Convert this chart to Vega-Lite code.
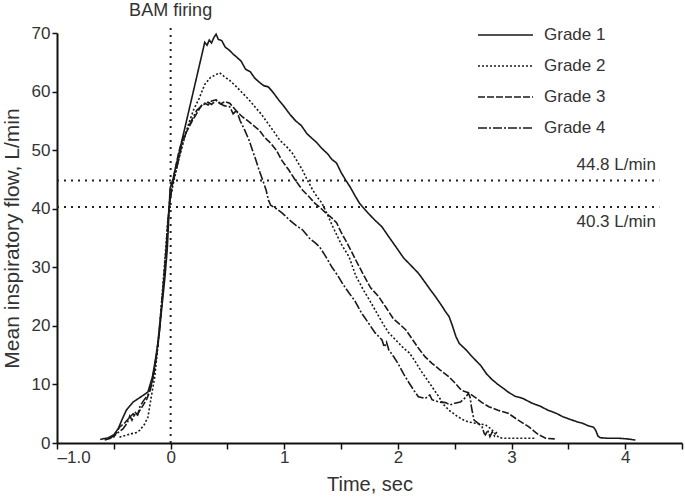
{
  "$schema": "https://vega.github.io/schema/vega-lite/v6.json",
  "width": 625,
  "height": 410,
  "autosize": {"type": "none"},
  "padding": {"left": 57, "top": 33, "right": 3, "bottom": 54},
  "config": {
    "font": "Liberation Sans",
    "view": {"stroke": null},
    "axis": {"grid": false, "domainColor": "#111", "tickColor": "#111", "labelColor": "#333", "titleColor": "#333", "titleFontWeight": "normal"}
  },
  "datasets": {
    "curves": [
      {"grade": "Grade 1", "t": -0.62, "v": 0.6}, {"grade": "Grade 1", "t": -0.55, "v": 0.9}, {"grade": "Grade 1", "t": -0.5, "v": 1.4}, {"grade": "Grade 1", "t": -0.46, "v": 2.5}, {"grade": "Grade 1", "t": -0.43, "v": 3.9}, {"grade": "Grade 1", "t": -0.39, "v": 5.6}, {"grade": "Grade 1", "t": -0.33, "v": 7.0}, {"grade": "Grade 1", "t": -0.26, "v": 7.9}, {"grade": "Grade 1", "t": -0.2, "v": 8.7}, {"grade": "Grade 1", "t": -0.16, "v": 11.3}, {"grade": "Grade 1", "t": -0.13, "v": 14.7}, {"grade": "Grade 1", "t": -0.1, "v": 18.8}, {"grade": "Grade 1", "t": -0.08, "v": 22.7}, {"grade": "Grade 1", "t": -0.05, "v": 28.3}, {"grade": "Grade 1", "t": -0.03, "v": 33}, {"grade": "Grade 1", "t": -0.015, "v": 39}, {"grade": "Grade 1", "t": -0.005, "v": 43.5}, {"grade": "Grade 1", "t": 0.02, "v": 45}, {"grade": "Grade 1", "t": 0.3, "v": 68.4}, {"grade": "Grade 1", "t": 0.32, "v": 67.9}, {"grade": "Grade 1", "t": 0.34, "v": 68.8}, {"grade": "Grade 1", "t": 0.36, "v": 68.3}, {"grade": "Grade 1", "t": 0.38, "v": 69.2}, {"grade": "Grade 1", "t": 0.4, "v": 69.8}, {"grade": "Grade 1", "t": 0.42, "v": 68.9}, {"grade": "Grade 1", "t": 0.45, "v": 68.7}, {"grade": "Grade 1", "t": 0.48, "v": 67.6}, {"grade": "Grade 1", "t": 0.52, "v": 67.0}, {"grade": "Grade 1", "t": 0.55, "v": 66.4}, {"grade": "Grade 1", "t": 0.58, "v": 65.9}, {"grade": "Grade 1", "t": 0.62, "v": 65.2}, {"grade": "Grade 1", "t": 0.66, "v": 63.8}, {"grade": "Grade 1", "t": 0.7, "v": 63.4}, {"grade": "Grade 1", "t": 0.74, "v": 62.3}, {"grade": "Grade 1", "t": 0.78, "v": 61.6}, {"grade": "Grade 1", "t": 0.82, "v": 61.0}, {"grade": "Grade 1", "t": 0.86, "v": 60.8}, {"grade": "Grade 1", "t": 0.9, "v": 59.9}, {"grade": "Grade 1", "t": 0.95, "v": 58.6}, {"grade": "Grade 1", "t": 1.0, "v": 57.4}, {"grade": "Grade 1", "t": 1.05, "v": 56.1}, {"grade": "Grade 1", "t": 1.1, "v": 55.0}, {"grade": "Grade 1", "t": 1.15, "v": 54.2}, {"grade": "Grade 1", "t": 1.2, "v": 52.8}, {"grade": "Grade 1", "t": 1.25, "v": 51.9}, {"grade": "Grade 1", "t": 1.28, "v": 51.4}, {"grade": "Grade 1", "t": 1.33, "v": 50.3}, {"grade": "Grade 1", "t": 1.38, "v": 49.4}, {"grade": "Grade 1", "t": 1.42, "v": 48.4}, {"grade": "Grade 1", "t": 1.46, "v": 47.8}, {"grade": "Grade 1", "t": 1.5, "v": 46.2}, {"grade": "Grade 1", "t": 1.54, "v": 44.9}, {"grade": "Grade 1", "t": 1.58, "v": 43.7}, {"grade": "Grade 1", "t": 1.62, "v": 42.3}, {"grade": "Grade 1", "t": 1.66, "v": 41.0}, {"grade": "Grade 1", "t": 1.69, "v": 40.3}, {"grade": "Grade 1", "t": 1.74, "v": 39.2}, {"grade": "Grade 1", "t": 1.8, "v": 38.0}, {"grade": "Grade 1", "t": 1.86, "v": 36.9}, {"grade": "Grade 1", "t": 1.92, "v": 35.2}, {"grade": "Grade 1", "t": 1.96, "v": 34.1}, {"grade": "Grade 1", "t": 2.0, "v": 33.0}, {"grade": "Grade 1", "t": 2.05, "v": 31.6}, {"grade": "Grade 1", "t": 2.1, "v": 30.6}, {"grade": "Grade 1", "t": 2.18, "v": 29.0}, {"grade": "Grade 1", "t": 2.24, "v": 27.4}, {"grade": "Grade 1", "t": 2.28, "v": 26.3}, {"grade": "Grade 1", "t": 2.33, "v": 25.0}, {"grade": "Grade 1", "t": 2.38, "v": 23.6}, {"grade": "Grade 1", "t": 2.42, "v": 22.4}, {"grade": "Grade 1", "t": 2.45, "v": 21.6}, {"grade": "Grade 1", "t": 2.48, "v": 20.0}, {"grade": "Grade 1", "t": 2.51, "v": 18.2}, {"grade": "Grade 1", "t": 2.54, "v": 17.0}, {"grade": "Grade 1", "t": 2.6, "v": 15.9}, {"grade": "Grade 1", "t": 2.64, "v": 15.0}, {"grade": "Grade 1", "t": 2.68, "v": 14.2}, {"grade": "Grade 1", "t": 2.73, "v": 13.2}, {"grade": "Grade 1", "t": 2.78, "v": 11.8}, {"grade": "Grade 1", "t": 2.83, "v": 10.8}, {"grade": "Grade 1", "t": 2.88, "v": 10.0}, {"grade": "Grade 1", "t": 2.93, "v": 9.3}, {"grade": "Grade 1", "t": 2.97, "v": 8.7}, {"grade": "Grade 1", "t": 3.03, "v": 8.0}, {"grade": "Grade 1", "t": 3.1, "v": 7.6}, {"grade": "Grade 1", "t": 3.18, "v": 6.8}, {"grade": "Grade 1", "t": 3.25, "v": 6.3}, {"grade": "Grade 1", "t": 3.32, "v": 5.6}, {"grade": "Grade 1", "t": 3.39, "v": 5.1}, {"grade": "Grade 1", "t": 3.45, "v": 4.5}, {"grade": "Grade 1", "t": 3.52, "v": 4.0}, {"grade": "Grade 1", "t": 3.58, "v": 3.6}, {"grade": "Grade 1", "t": 3.62, "v": 3.4}, {"grade": "Grade 1", "t": 3.68, "v": 2.9}, {"grade": "Grade 1", "t": 3.72, "v": 2.7}, {"grade": "Grade 1", "t": 3.74, "v": 2.2}, {"grade": "Grade 1", "t": 3.76, "v": 1.2}, {"grade": "Grade 1", "t": 3.78, "v": 0.9}, {"grade": "Grade 1", "t": 3.85, "v": 0.8}, {"grade": "Grade 1", "t": 3.95, "v": 0.8}, {"grade": "Grade 1", "t": 4.02, "v": 0.7}, {"grade": "Grade 1", "t": 4.09, "v": 0.5},

      {"grade": "Grade 2", "t": -0.45, "v": 1.0}, {"grade": "Grade 2", "t": -0.38, "v": 1.4}, {"grade": "Grade 2", "t": -0.3, "v": 1.8}, {"grade": "Grade 2", "t": -0.27, "v": 2.2}, {"grade": "Grade 2", "t": -0.23, "v": 3.2}, {"grade": "Grade 2", "t": -0.2, "v": 4.4}, {"grade": "Grade 2", "t": -0.17, "v": 7.9}, {"grade": "Grade 2", "t": -0.14, "v": 11.3}, {"grade": "Grade 2", "t": -0.12, "v": 15}, {"grade": "Grade 2", "t": -0.1, "v": 19}, {"grade": "Grade 2", "t": -0.08, "v": 24}, {"grade": "Grade 2", "t": -0.06, "v": 29}, {"grade": "Grade 2", "t": -0.04, "v": 34}, {"grade": "Grade 2", "t": -0.025, "v": 38}, {"grade": "Grade 2", "t": -0.01, "v": 41}, {"grade": "Grade 2", "t": 0.02, "v": 44}, {"grade": "Grade 2", "t": 0.06, "v": 47.5}, {"grade": "Grade 2", "t": 0.1, "v": 50.5}, {"grade": "Grade 2", "t": 0.15, "v": 54}, {"grade": "Grade 2", "t": 0.2, "v": 56.8}, {"grade": "Grade 2", "t": 0.25, "v": 58.8}, {"grade": "Grade 2", "t": 0.3, "v": 61.2}, {"grade": "Grade 2", "t": 0.35, "v": 62.4}, {"grade": "Grade 2", "t": 0.4, "v": 62.9}, {"grade": "Grade 2", "t": 0.43, "v": 63.2}, {"grade": "Grade 2", "t": 0.47, "v": 62.6}, {"grade": "Grade 2", "t": 0.52, "v": 61.9}, {"grade": "Grade 2", "t": 0.58, "v": 60.8}, {"grade": "Grade 2", "t": 0.63, "v": 59.8}, {"grade": "Grade 2", "t": 0.69, "v": 58.6}, {"grade": "Grade 2", "t": 0.75, "v": 57.2}, {"grade": "Grade 2", "t": 0.8, "v": 56.1}, {"grade": "Grade 2", "t": 0.84, "v": 55.0}, {"grade": "Grade 2", "t": 0.9, "v": 53.4}, {"grade": "Grade 2", "t": 0.96, "v": 51.7}, {"grade": "Grade 2", "t": 1.02, "v": 50.6}, {"grade": "Grade 2", "t": 1.07, "v": 49.5}, {"grade": "Grade 2", "t": 1.12, "v": 47.9}, {"grade": "Grade 2", "t": 1.16, "v": 46.6}, {"grade": "Grade 2", "t": 1.2, "v": 45.0}, {"grade": "Grade 2", "t": 1.25, "v": 43.2}, {"grade": "Grade 2", "t": 1.29, "v": 42.0}, {"grade": "Grade 2", "t": 1.33, "v": 41.0}, {"grade": "Grade 2", "t": 1.38, "v": 39.0}, {"grade": "Grade 2", "t": 1.43, "v": 36.8}, {"grade": "Grade 2", "t": 1.5, "v": 34.0}, {"grade": "Grade 2", "t": 1.57, "v": 31.8}, {"grade": "Grade 2", "t": 1.63, "v": 28.5}, {"grade": "Grade 2", "t": 1.7, "v": 26.0}, {"grade": "Grade 2", "t": 1.75, "v": 24.4}, {"grade": "Grade 2", "t": 1.82, "v": 22.0}, {"grade": "Grade 2", "t": 1.88, "v": 20.0}, {"grade": "Grade 2", "t": 1.92, "v": 18.8}, {"grade": "Grade 2", "t": 2.0, "v": 17.2}, {"grade": "Grade 2", "t": 2.05, "v": 16.2}, {"grade": "Grade 2", "t": 2.1, "v": 15.4}, {"grade": "Grade 2", "t": 2.15, "v": 14.0}, {"grade": "Grade 2", "t": 2.2, "v": 12.4}, {"grade": "Grade 2", "t": 2.24, "v": 11.3}, {"grade": "Grade 2", "t": 2.3, "v": 9.6}, {"grade": "Grade 2", "t": 2.36, "v": 7.9}, {"grade": "Grade 2", "t": 2.4, "v": 6.6}, {"grade": "Grade 2", "t": 2.45, "v": 5.6}, {"grade": "Grade 2", "t": 2.52, "v": 4.6}, {"grade": "Grade 2", "t": 2.57, "v": 4.0}, {"grade": "Grade 2", "t": 2.62, "v": 3.6}, {"grade": "Grade 2", "t": 2.7, "v": 3.3}, {"grade": "Grade 2", "t": 2.77, "v": 3.1}, {"grade": "Grade 2", "t": 2.82, "v": 2.4}, {"grade": "Grade 2", "t": 2.86, "v": 1.5}, {"grade": "Grade 2", "t": 2.89, "v": 0.9}, {"grade": "Grade 2", "t": 2.95, "v": 0.8}, {"grade": "Grade 2", "t": 3.1, "v": 0.8}, {"grade": "Grade 2", "t": 3.21, "v": 0.8},

      {"grade": "Grade 3", "t": -0.58, "v": 0.5}, {"grade": "Grade 3", "t": -0.5, "v": 1.0}, {"grade": "Grade 3", "t": -0.45, "v": 2.7}, {"grade": "Grade 3", "t": -0.4, "v": 3.5}, {"grade": "Grade 3", "t": -0.36, "v": 4.4}, {"grade": "Grade 3", "t": -0.33, "v": 5.0}, {"grade": "Grade 3", "t": -0.3, "v": 4.6}, {"grade": "Grade 3", "t": -0.27, "v": 5.6}, {"grade": "Grade 3", "t": -0.24, "v": 6.5}, {"grade": "Grade 3", "t": -0.21, "v": 7.5}, {"grade": "Grade 3", "t": -0.18, "v": 9.0}, {"grade": "Grade 3", "t": -0.15, "v": 11.5}, {"grade": "Grade 3", "t": -0.12, "v": 15.5}, {"grade": "Grade 3", "t": -0.1, "v": 19.5}, {"grade": "Grade 3", "t": -0.08, "v": 23.5}, {"grade": "Grade 3", "t": -0.06, "v": 28}, {"grade": "Grade 3", "t": -0.04, "v": 33}, {"grade": "Grade 3", "t": -0.025, "v": 37.5}, {"grade": "Grade 3", "t": -0.01, "v": 41}, {"grade": "Grade 3", "t": 0.01, "v": 43.5}, {"grade": "Grade 3", "t": 0.035, "v": 46.3}, {"grade": "Grade 3", "t": 0.07, "v": 49.5}, {"grade": "Grade 3", "t": 0.1, "v": 51.7}, {"grade": "Grade 3", "t": 0.15, "v": 53.5}, {"grade": "Grade 3", "t": 0.19, "v": 55.0}, {"grade": "Grade 3", "t": 0.24, "v": 56.6}, {"grade": "Grade 3", "t": 0.27, "v": 57.6}, {"grade": "Grade 3", "t": 0.3, "v": 58.0}, {"grade": "Grade 3", "t": 0.33, "v": 57.7}, {"grade": "Grade 3", "t": 0.36, "v": 58.4}, {"grade": "Grade 3", "t": 0.4, "v": 58.6}, {"grade": "Grade 3", "t": 0.44, "v": 57.9}, {"grade": "Grade 3", "t": 0.48, "v": 58.3}, {"grade": "Grade 3", "t": 0.52, "v": 58.0}, {"grade": "Grade 3", "t": 0.57, "v": 56.9}, {"grade": "Grade 3", "t": 0.63, "v": 55.7}, {"grade": "Grade 3", "t": 0.68, "v": 55.0}, {"grade": "Grade 3", "t": 0.73, "v": 54.2}, {"grade": "Grade 3", "t": 0.78, "v": 53.4}, {"grade": "Grade 3", "t": 0.83, "v": 52.1}, {"grade": "Grade 3", "t": 0.88, "v": 51.2}, {"grade": "Grade 3", "t": 0.93, "v": 50.0}, {"grade": "Grade 3", "t": 0.98, "v": 48.2}, {"grade": "Grade 3", "t": 1.04, "v": 46.6}, {"grade": "Grade 3", "t": 1.1, "v": 44.8}, {"grade": "Grade 3", "t": 1.16, "v": 43.2}, {"grade": "Grade 3", "t": 1.22, "v": 42.0}, {"grade": "Grade 3", "t": 1.27, "v": 40.9}, {"grade": "Grade 3", "t": 1.31, "v": 40.3}, {"grade": "Grade 3", "t": 1.37, "v": 39.2}, {"grade": "Grade 3", "t": 1.42, "v": 38.4}, {"grade": "Grade 3", "t": 1.46, "v": 37.6}, {"grade": "Grade 3", "t": 1.5, "v": 36.0}, {"grade": "Grade 3", "t": 1.54, "v": 34.6}, {"grade": "Grade 3", "t": 1.57, "v": 33.5}, {"grade": "Grade 3", "t": 1.63, "v": 31.2}, {"grade": "Grade 3", "t": 1.7, "v": 28.6}, {"grade": "Grade 3", "t": 1.76, "v": 26.5}, {"grade": "Grade 3", "t": 1.83, "v": 25.0}, {"grade": "Grade 3", "t": 1.9, "v": 23.0}, {"grade": "Grade 3", "t": 1.96, "v": 21.2}, {"grade": "Grade 3", "t": 2.02, "v": 20.2}, {"grade": "Grade 3", "t": 2.07, "v": 19.3}, {"grade": "Grade 3", "t": 2.12, "v": 17.9}, {"grade": "Grade 3", "t": 2.18, "v": 16.2}, {"grade": "Grade 3", "t": 2.24, "v": 14.7}, {"grade": "Grade 3", "t": 2.3, "v": 13.6}, {"grade": "Grade 3", "t": 2.37, "v": 12.5}, {"grade": "Grade 3", "t": 2.45, "v": 11.3}, {"grade": "Grade 3", "t": 2.5, "v": 10.3}, {"grade": "Grade 3", "t": 2.56, "v": 9.0}, {"grade": "Grade 3", "t": 2.62, "v": 8.6}, {"grade": "Grade 3", "t": 2.68, "v": 7.8}, {"grade": "Grade 3", "t": 2.74, "v": 6.9}, {"grade": "Grade 3", "t": 2.8, "v": 6.2}, {"grade": "Grade 3", "t": 2.88, "v": 5.6}, {"grade": "Grade 3", "t": 2.97, "v": 5.1}, {"grade": "Grade 3", "t": 3.05, "v": 4.0}, {"grade": "Grade 3", "t": 3.1, "v": 3.4}, {"grade": "Grade 3", "t": 3.15, "v": 2.8}, {"grade": "Grade 3", "t": 3.2, "v": 2.0}, {"grade": "Grade 3", "t": 3.24, "v": 1.4}, {"grade": "Grade 3", "t": 3.3, "v": 0.8}, {"grade": "Grade 3", "t": 3.38, "v": 0.7},

      {"grade": "Grade 4", "t": -0.55, "v": 0.7}, {"grade": "Grade 4", "t": -0.5, "v": 1.2}, {"grade": "Grade 4", "t": -0.46, "v": 1.8}, {"grade": "Grade 4", "t": -0.42, "v": 2.4}, {"grade": "Grade 4", "t": -0.38, "v": 3.5}, {"grade": "Grade 4", "t": -0.36, "v": 4.6}, {"grade": "Grade 4", "t": -0.34, "v": 3.9}, {"grade": "Grade 4", "t": -0.31, "v": 5.2}, {"grade": "Grade 4", "t": -0.29, "v": 4.8}, {"grade": "Grade 4", "t": -0.27, "v": 6.2}, {"grade": "Grade 4", "t": -0.24, "v": 7.2}, {"grade": "Grade 4", "t": -0.2, "v": 8.2}, {"grade": "Grade 4", "t": -0.17, "v": 10}, {"grade": "Grade 4", "t": -0.14, "v": 13}, {"grade": "Grade 4", "t": -0.11, "v": 17}, {"grade": "Grade 4", "t": -0.09, "v": 21}, {"grade": "Grade 4", "t": -0.07, "v": 25.5}, {"grade": "Grade 4", "t": -0.05, "v": 30}, {"grade": "Grade 4", "t": -0.035, "v": 34.5}, {"grade": "Grade 4", "t": -0.02, "v": 38.5}, {"grade": "Grade 4", "t": -0.005, "v": 41.5}, {"grade": "Grade 4", "t": 0.02, "v": 44.5}, {"grade": "Grade 4", "t": 0.06, "v": 47.5}, {"grade": "Grade 4", "t": 0.1, "v": 51.0}, {"grade": "Grade 4", "t": 0.14, "v": 53.2}, {"grade": "Grade 4", "t": 0.19, "v": 55.3}, {"grade": "Grade 4", "t": 0.23, "v": 56.8}, {"grade": "Grade 4", "t": 0.27, "v": 57.5}, {"grade": "Grade 4", "t": 0.3, "v": 57.9}, {"grade": "Grade 4", "t": 0.33, "v": 58.2}, {"grade": "Grade 4", "t": 0.36, "v": 57.8}, {"grade": "Grade 4", "t": 0.4, "v": 58.5}, {"grade": "Grade 4", "t": 0.43, "v": 58.0}, {"grade": "Grade 4", "t": 0.47, "v": 57.6}, {"grade": "Grade 4", "t": 0.52, "v": 57.4}, {"grade": "Grade 4", "t": 0.55, "v": 56.2}, {"grade": "Grade 4", "t": 0.58, "v": 56.8}, {"grade": "Grade 4", "t": 0.61, "v": 55.1}, {"grade": "Grade 4", "t": 0.65, "v": 53.5}, {"grade": "Grade 4", "t": 0.69, "v": 51.7}, {"grade": "Grade 4", "t": 0.72, "v": 50.0}, {"grade": "Grade 4", "t": 0.75, "v": 48.3}, {"grade": "Grade 4", "t": 0.78, "v": 46.5}, {"grade": "Grade 4", "t": 0.81, "v": 44.9}, {"grade": "Grade 4", "t": 0.84, "v": 43.2}, {"grade": "Grade 4", "t": 0.86, "v": 41.5}, {"grade": "Grade 4", "t": 0.88, "v": 40.6}, {"grade": "Grade 4", "t": 0.93, "v": 40.0}, {"grade": "Grade 4", "t": 0.98, "v": 39.3}, {"grade": "Grade 4", "t": 1.05, "v": 38.0}, {"grade": "Grade 4", "t": 1.1, "v": 37.2}, {"grade": "Grade 4", "t": 1.16, "v": 36.4}, {"grade": "Grade 4", "t": 1.22, "v": 35.0}, {"grade": "Grade 4", "t": 1.27, "v": 34.2}, {"grade": "Grade 4", "t": 1.31, "v": 33.5}, {"grade": "Grade 4", "t": 1.36, "v": 32.0}, {"grade": "Grade 4", "t": 1.42, "v": 30.0}, {"grade": "Grade 4", "t": 1.47, "v": 28.6}, {"grade": "Grade 4", "t": 1.52, "v": 27.0}, {"grade": "Grade 4", "t": 1.57, "v": 25.6}, {"grade": "Grade 4", "t": 1.62, "v": 24.3}, {"grade": "Grade 4", "t": 1.68, "v": 22.2}, {"grade": "Grade 4", "t": 1.74, "v": 20.5}, {"grade": "Grade 4", "t": 1.8, "v": 18.8}, {"grade": "Grade 4", "t": 1.86, "v": 17.6}, {"grade": "Grade 4", "t": 1.88, "v": 16.4}, {"grade": "Grade 4", "t": 1.9, "v": 17.2}, {"grade": "Grade 4", "t": 1.92, "v": 15.9}, {"grade": "Grade 4", "t": 1.96, "v": 14.8}, {"grade": "Grade 4", "t": 2.0, "v": 13.6}, {"grade": "Grade 4", "t": 2.05, "v": 11.8}, {"grade": "Grade 4", "t": 2.1, "v": 10.2}, {"grade": "Grade 4", "t": 2.14, "v": 9.0}, {"grade": "Grade 4", "t": 2.18, "v": 7.9}, {"grade": "Grade 4", "t": 2.24, "v": 7.6}, {"grade": "Grade 4", "t": 2.28, "v": 8.2}, {"grade": "Grade 4", "t": 2.3, "v": 7.4}, {"grade": "Grade 4", "t": 2.36, "v": 7.0}, {"grade": "Grade 4", "t": 2.42, "v": 6.9}, {"grade": "Grade 4", "t": 2.46, "v": 6.5}, {"grade": "Grade 4", "t": 2.5, "v": 6.8}, {"grade": "Grade 4", "t": 2.55, "v": 7.0}, {"grade": "Grade 4", "t": 2.58, "v": 7.5}, {"grade": "Grade 4", "t": 2.6, "v": 7.9}, {"grade": "Grade 4", "t": 2.62, "v": 8.5}, {"grade": "Grade 4", "t": 2.635, "v": 7.8}, {"grade": "Grade 4", "t": 2.65, "v": 5.8}, {"grade": "Grade 4", "t": 2.67, "v": 3.9}, {"grade": "Grade 4", "t": 2.71, "v": 3.3}, {"grade": "Grade 4", "t": 2.74, "v": 2.8}, {"grade": "Grade 4", "t": 2.76, "v": 1.6}, {"grade": "Grade 4", "t": 2.77, "v": 1.4}, {"grade": "Grade 4", "t": 2.79, "v": 2.2}, {"grade": "Grade 4", "t": 2.81, "v": 1.1}, {"grade": "Grade 4", "t": 2.83, "v": 1.9}, {"grade": "Grade 4", "t": 2.85, "v": 1.2}, {"grade": "Grade 4", "t": 2.87, "v": 1.9}
    ],
    "hrules": [{"t": -1, "t2": 4.3, "v": 44.8}, {"t": -1, "t2": 4.3, "v": 40.3}],
    "vrule": [{"t": 0, "v": 0, "v2": 71}],
    "reflabels": [{"t": 4.27, "v": 47.4, "label": "44.8 L/min"}, {"t": 4.27, "v": 37.8, "label": "40.3 L/min"}],
    "toplabel": [{"t": 0, "v": 73.8, "label": "BAM firing"}]
  },
  "encoding": {
    "x": {
      "field": "t", "type": "quantitative",
      "scale": {"domain": [-1, 4.5], "nice": false, "zero": false},
      "axis": {
        "values": [-1, -0.5, 0, 0.5, 1, 1.5, 2, 2.5, 3, 3.5, 4, 4.5],
        "labelExpr": "datum.value == -1 ? '\u20131.0' : (datum.value % 1 == 0 ? datum.value : '')",
        "labelFontSize": 17, "labelPadding": 0, "tickSize": 6, "tickWidth": 1.5, "domainWidth": 2,
        "title": "Time, sec", "titleFontSize": 20, "titlePadding": 9
      }
    },
    "y": {
      "field": "v", "type": "quantitative",
      "scale": {"domain": [0, 70], "nice": false},
      "axis": {
        "values": [0, 10, 20, 30, 40, 50, 60, 70],
        "labelFontSize": 17, "labelPadding": 2, "tickSize": 5, "tickWidth": 1.5, "domainWidth": 2,
        "title": "Mean inspiratory flow, L/min", "titleFontSize": 21, "titlePadding": 9
      }
    }
  },
  "layer": [
    {
      "data": {"name": "hrules"},
      "mark": {"type": "rule", "strokeDash": [2, 5], "strokeWidth": 2, "color": "#222"},
      "encoding": {"x2": {"field": "t2"}}
    },
    {
      "data": {"name": "vrule"},
      "mark": {"type": "rule", "strokeDash": [2, 5], "strokeWidth": 2, "color": "#222"},
      "encoding": {"y2": {"field": "v2"}}
    },
    {
      "data": {"name": "reflabels"},
      "mark": {"type": "text", "align": "right", "baseline": "middle", "fontSize": 17, "color": "#333"},
      "encoding": {"text": {"field": "label"}}
    },
    {
      "data": {"name": "toplabel"},
      "mark": {"type": "text", "align": "center", "baseline": "middle", "fontSize": 18, "color": "#333", "clip": false},
      "encoding": {"text": {"field": "label"}}
    },
    {
      "data": {"name": "curves"},
      "mark": {"type": "line", "strokeWidth": 1.6, "color": "#1a1a1a"},
      "encoding": {
        "strokeDash": {
          "field": "grade", "type": "nominal",
          "scale": {"domain": ["Grade 1", "Grade 2", "Grade 3", "Grade 4"], "range": [[1, 0], [2, 2], [7, 2], [9, 2, 2, 2]]},
          "legend": {
            "title": null, "orient": "none", "legendX": 420, "legendY": -8,
            "symbolType": "stroke", "symbolSize": 3025, "symbolStrokeWidth": 1.6, "symbolStrokeColor": "#1a1a1a",
            "clipHeight": 20,
            "labelFontSize": 17, "labelColor": "#333", "labelOffset": 10, "rowPadding": 11
          }
        }
      }
    }
  ]
}
